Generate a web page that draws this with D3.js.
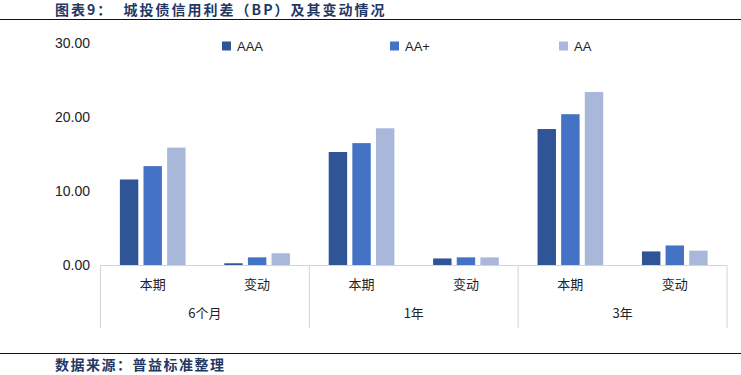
<!DOCTYPE html>
<html>
<head>
<meta charset="utf-8">
<script src="https://cdn.jsdelivr.net/npm/d3@7"></script>
<style>
  body { margin: 0; background: #fff; }
  svg { display: block; }
</style>
</head>
<body>
<div id="chart"></div>
<script>
// Data
const groups = ["6个月", "1年", "3年"];
const subCats = ["本期", "变动"];
const seriesNames = ["AAA", "AA+", "AA"];
const aaa = [11.6, 0.3, 15.3, 0.95, 18.4, 1.9];
const aaPlus = [13.4, 1.1, 16.5, 1.1, 20.4, 2.7];
const aa = [15.9, 1.65, 18.5, 1.1, 23.4, 2.0];
const yTicks = [0, 10, 20, 30];
const colors = ["#2f5597", "#4472c4", "#a9b8da"];

const width = 741, height = 375;
const x0 = 100.5, x1 = 727;
const yTop = 43, yBase = 265.5;

const svg = d3.select("#chart").append("svg")
  .attr("width", width).attr("height", height);

// Title and rule
svg.append("text")
  .attr("x", 55).attr("y", 14.5)
  .attr("font-family", "Noto Sans CJK SC")
  .attr("font-weight", "bold")
  .attr("font-size", 14)
  .attr("letter-spacing", 2)
  .attr("fill", "#1f3864")
  .attr("xml:space", "preserve")
  .text("图表9：  城投债信用利差（BP）及其变动情况");
svg.append("line")
  .attr("x1", 0).attr("x2", width).attr("y1", 19.5).attr("y2", 19.5)
  .attr("stroke", "#111").attr("stroke-width", 1.2);

// Source and rule
svg.append("line")
  .attr("x1", 0).attr("x2", width).attr("y1", 353.5).attr("y2", 353.5)
  .attr("stroke", "#111").attr("stroke-width", 1.2);
svg.append("text")
  .attr("x", 55).attr("y", 370)
  .attr("font-family", "Noto Sans CJK SC")
  .attr("font-weight", "bold")
  .attr("font-size", 14)
  .attr("letter-spacing", 1.5)
  .attr("fill", "#1f3864")
  .text("数据来源：普益标准整理");

// Scales
const cats = [];
groups.forEach(g => subCats.forEach(s => cats.push(g + "|" + s)));

const xOuter = d3.scaleBand().domain(groups).range([x0, x1]);
const xCat = d3.scaleBand().domain(cats).range([x0, x1]);
const xInner = d3.scaleBand().domain(seriesNames)
  .range([0, xCat.bandwidth()]).paddingInner(0.22).paddingOuter(0.82);
const y = d3.scaleLinear().domain([0, 30]).range([yBase, yTop]);

// Y tick labels
svg.append("g")
  .selectAll("text")
  .data(yTicks)
  .join("text")
  .attr("x", 90).attr("y", d => y(d))
  .attr("dy", "0.35em")
  .attr("text-anchor", "end")
  .attr("font-family", "Liberation Sans, Arial, sans-serif")
  .attr("font-size", 14)
  .attr("fill", "#222")
  .text(d => d3.format(".2f")(d));

// Bars
const seriesData = [aaa, aaPlus, aa];
seriesData.forEach((vals, si) => {
  svg.append("g")
    .selectAll("rect")
    .data(vals)
    .join("rect")
    .attr("x", (d, i) => xCat(cats[i]) + xInner(seriesNames[si]))
    .attr("width", xInner.bandwidth())
    .attr("y", d => y(d))
    .attr("height", d => yBase - y(d))
    .attr("fill", colors[si]);
});

// Category axis lines
const axisG = svg.append("g").attr("stroke", "#d4d4d4").attr("stroke-width", 1);
axisG.append("line")
  .attr("x1", x0).attr("x2", x1).attr("y1", yBase).attr("y2", yBase);
const seps = groups.map(g => xOuter(g)).concat([x1]);
axisG.selectAll("line.sep")
  .data(seps)
  .join("line")
  .attr("class", "sep")
  .attr("x1", d => d).attr("x2", d => d)
  .attr("y1", yBase).attr("y2", 328);

// Sub-category labels
svg.append("g")
  .selectAll("text")
  .data(cats)
  .join("text")
  .attr("x", d => xCat(d) + xCat.bandwidth() / 2)
  .attr("y", 284)
  .attr("dy", "0.35em")
  .attr("text-anchor", "middle")
  .attr("font-family", "Noto Sans CJK SC")
  .attr("font-size", 13)
  .attr("fill", "#222")
  .text(d => d.split("|")[1]);

// Group labels
svg.append("g")
  .selectAll("text")
  .data(groups)
  .join("text")
  .attr("x", d => xOuter(d) + xOuter.bandwidth() / 2)
  .attr("y", 313)
  .attr("dy", "0.35em")
  .attr("text-anchor", "middle")
  .attr("font-family", "Noto Sans CJK SC")
  .attr("font-size", 13)
  .attr("fill", "#222")
  .text(d => d);

// Legend
const legendX = [222, 390, 559];
const legend = svg.append("g")
  .selectAll("g")
  .data(seriesNames)
  .join("g")
  .attr("transform", (d, i) => `translate(${legendX[i]},46)`);
legend.append("rect")
  .attr("x", 0).attr("y", -4.5)
  .attr("width", 9).attr("height", 9)
  .attr("fill", (d, i) => colors[i]);
legend.append("text")
  .attr("x", 15).attr("y", 0)
  .attr("dy", "0.35em")
  .attr("font-family", "Liberation Sans, Arial, sans-serif")
  .attr("font-size", 13)
  .attr("fill", "#222")
  .text(d => d);
</script>
</body>
</html>
